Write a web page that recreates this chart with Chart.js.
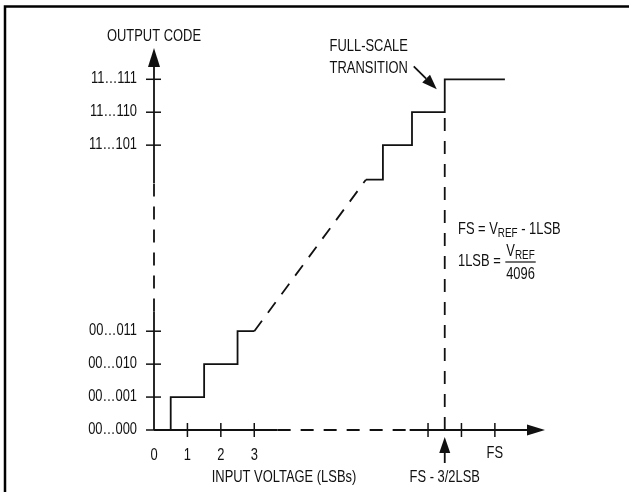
<!DOCTYPE html>
<html>
<head>
<meta charset="utf-8">
<script src="https://cdn.jsdelivr.net/npm/chart.js@4/dist/chart.umd.min.js"></script>
<style>
  body { margin: 0; background: #fff; }
  canvas { display: block; }
</style>
</head>
<body>
<canvas id="chart" width="629" height="492"></canvas>
<script>
// output codes on the vertical axis
let codeLabels = ['00…000', '00…001', '00…010', '00…011', '11…101', '11…110', '11…111'];
let codeValues = [0, 1, 2, 3, 8.65, 9.65, 10.65];
// input voltage ticks (LSBs), FS sits near 10.2
let voltLabels = ['0', '1', '2', '3', '', '', 'FS'];
let voltTicks = [0, 1, 2, 3, 8.2, 9.2, 10.2];

// transfer function pieces
let lowStairX = [0, 0.5, 0.5, 1.5, 1.5, 2.5, 2.5, 3];
let lowStairY = [0, 0, 1, 1, 2, 2, 3, 3];
let rampX = [3, 6.34];
let rampY = [3, 7.6];
let highStairX = [6.34, 6.85, 6.85, 7.72, 7.72, 8.7, 8.7, 10.5];
let highStairY = [7.6, 7.6, 8.65, 8.65, 9.65, 9.65, 10.65, 10.65];
let fsLineX = [8.7, 8.7];
let fsLineY = [0, 9.65];

let font = '"Liberation Sans", Arial, sans-serif';
let squeeze = 0.76; // condensed look
let ink = '#111';
let dash = [13, 10];

function pts(xs, ys) {
    return xs.map((x, i) => ({ x: x, y: ys[i] }));
}

function line(data, dashed) {
    return {
        data: data,
        showLine: true,
        borderColor: ink,
        borderWidth: 1.8,
        borderDash: dashed ? dash : [],
        pointRadius: 0,
        fill: false,
        clip: false
    };
}

function arrow(c, x1, y1, x2, y2, len, half) {
    let a = Math.atan2(y2 - y1, x2 - x1);
    let bx = x2 - len * Math.cos(a), by = y2 - len * Math.sin(a);
    c.beginPath();
    c.moveTo(x1, y1);
    c.lineTo(bx, by);
    c.stroke();
    c.beginPath();
    c.moveTo(x2, y2);
    c.lineTo(bx + half * Math.sin(a), by - half * Math.cos(a));
    c.lineTo(bx - half * Math.sin(a), by + half * Math.cos(a));
    c.closePath();
    c.fill();
}

function seg(c, x1, y1, x2, y2, dashed) {
    c.save();
    c.setLineDash(dashed ? dash : []);
    c.beginPath();
    c.moveTo(x1, y1);
    c.lineTo(x2, y2);
    c.stroke();
    c.restore();
}

// condensed text, returns drawn width
function txt(c, s, x, y, align, size) {
    c.save();
    c.font = (size || 17) + 'px ' + font;
    c.textAlign = align;
    c.textBaseline = 'middle';
    c.translate(x, y);
    c.scale(squeeze, 1);
    c.fillText(s, 0, 0);
    let w = c.measureText(s).width * squeeze;
    c.restore();
    return w;
}

// V with a "REF" subscript
function vref(c, x, y) {
    let w = txt(c, 'V', x, y, 'left');
    return w + txt(c, 'REF', x + w, y + 4, 'left', 13);
}

let diagram = {
    id: 'diagram',
    beforeDraw(chart) {
        let c = chart.ctx;
        c.save();
        c.strokeStyle = '#000';
        c.lineWidth = 2.5;
        c.beginPath();
        c.moveTo(5, 492);
        c.lineTo(5, 6.5);
        c.lineTo(629, 6.5);
        c.stroke();
        c.restore();
    },
    afterDatasetsDraw(chart) {
        let c = chart.ctx;
        let xs = chart.scales.x, ys = chart.scales.y;
        let area = chart.chartArea;
        let x0 = xs.getPixelForValue(0), y0 = ys.getPixelForValue(0);
        c.save();
        c.strokeStyle = ink;
        c.fillStyle = ink;
        c.lineWidth = 1.8;

        // vertical axis: solid, broken, solid, arrow
        seg(c, x0, y0, x0, ys.getPixelForValue(3.6), false);
        seg(c, x0, ys.getPixelForValue(3.6), x0, ys.getPixelForValue(7.5), true);
        arrow(c, x0, ys.getPixelForValue(7.5), x0, area.top, 19, 6);

        // horizontal axis
        seg(c, x0, y0, xs.getPixelForValue(3.7), y0, false);
        seg(c, xs.getPixelForValue(3.7), y0, xs.getPixelForValue(7.65), y0, true);
        arrow(c, xs.getPixelForValue(7.65), y0, area.right, y0, 18, 5.5);

        // ticks crossing the axes
        c.lineWidth = 1.5;
        codeValues.forEach(v => {
            let py = ys.getPixelForValue(v);
            seg(c, x0 - 8, py, x0 + 7, py, false);
        });
        voltTicks.forEach(v => {
            if (v === 0) return;
            let px = xs.getPixelForValue(v);
            seg(c, px, y0 - 7, px, y0 + 7, false);
        });

        // labels
        codeValues.forEach((v, i) => {
            txt(c, codeLabels[i], 137, ys.getPixelForValue(v) - 1, 'right');
        });
        voltTicks.forEach((v, i) => {
            if (!voltLabels[i]) return;
            let dy = voltLabels[i] === 'FS' ? 23 : 25;
            txt(c, voltLabels[i], xs.getPixelForValue(v), y0 + dy, 'center');
        });
        txt(c, 'OUTPUT CODE', x0, 36, 'center');
        txt(c, 'INPUT VOLTAGE (LSBs)', 284, 477, 'center');

        // FS - 3/2LSB marker
        let fx = xs.getPixelForValue(fsLineX[0]);
        c.lineWidth = 1.8;
        arrow(c, fx, y0 + 33, fx, y0 + 7, 16, 5.5);
        txt(c, 'FS - 3/2LSB', fx, 477, 'center');

        // full-scale transition callout
        let ty = ys.getPixelForValue(highStairY[highStairY.length - 1]);
        arrow(c, fx - 31, ty - 13, fx - 8, ty + 10, 15, 5.5);
        txt(c, 'FULL-SCALE', fx - 76, ty - 33, 'center');
        txt(c, 'TRANSITION', fx - 76, ty - 11, 'center');

        // formulas
        let lx = 458;
        let w = txt(c, 'FS = ', lx, 229, 'left');
        w += vref(c, lx + w, 229);
        txt(c, ' - 1LSB', lx + w, 229, 'left');

        let nx = lx + txt(c, '1LSB = ', lx, 261, 'left') + 2;
        let nw = vref(c, nx, 251);
        c.lineWidth = 1.2;
        seg(c, nx - 1, 262, nx + nw + 1, 262, false);
        txt(c, '4096', nx + nw / 2, 274, 'center');

        c.restore();
    }
};

let ctx = document.getElementById('chart').getContext('2d');
let chart = new Chart(ctx, {
    type: 'scatter',
    data: {
        datasets: [
            line(pts(lowStairX, lowStairY), false),
            line(pts(rampX, rampY), true),
            line(pts(highStairX, highStairY), false),
            line(pts(fsLineX, fsLineY), true)
        ]
    },
    options: {
        responsive: false,
        animation: false,
        events: [],
        layout: {
            padding: { left: 154, top: 48, right: 84, bottom: 62 }
        },
        scales: {
            x: { type: 'linear', min: 0, max: 11.7, display: false },
            y: { type: 'linear', min: 0, max: 11.6, display: false }
        },
        plugins: {
            legend: { display: false },
            tooltip: { enabled: false }
        }
    },
    plugins: [diagram]
});
</script>
</body>
</html>
